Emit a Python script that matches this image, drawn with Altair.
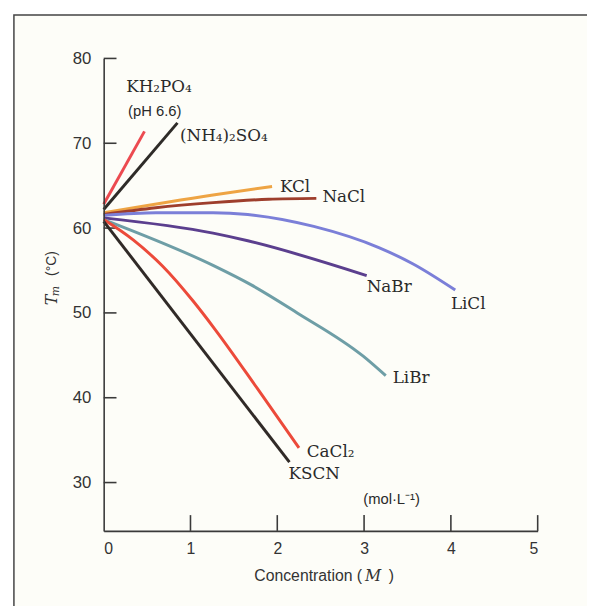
import altair as alt
import pandas as pd

# ---- data ----
series_names = ["KH₂PO₄", "(NH₄)₂SO₄", "KCl", "NaCl", "LiCl", "NaBr", "LiBr", "CaCl₂", "KSCN"]
series_colors = ["#ec4a50", "#2e2b28", "#eea444", "#9e3e2c", "#7b7fd8", "#5b3f8e", "#6e9ea6", "#ec4a3a", "#302a27"]

kh2po4_x = [0, 0.47]
kh2po4_y = [62.8, 71.4]
nh4so4_x = [0, 0.85]
nh4so4_y = [62.2, 72.4]
kcl_x = [0, 1.26, 1.94]
kcl_y = [61.8, 63.9, 64.9]
nacl_x = [0, 0.6, 1.26, 1.9, 2.45]
nacl_y = [61.6, 62.4, 63.0, 63.4, 63.5]
licl_x = [0, 0.6, 1.26, 1.66, 2.42, 3.17, 3.56, 4.05]
licl_y = [61.5, 61.8, 61.8, 61.6, 60.2, 57.7, 55.8, 52.7]
nabr_x = [0, 1.26, 1.66, 3.03]
nabr_y = [61.2, 59.4, 58.5, 54.4]
libr_x = [0, 1.26, 1.7, 2.23, 2.99, 3.25]
libr_y = [61.0, 55.6, 53.3, 50.0, 44.9, 42.6]
cacl2_x = [0, 0.34, 0.68, 1.03, 1.28, 1.77, 2.25]
cacl2_y = [61.0, 58.6, 55.5, 51.4, 48.1, 41.1, 34.1]
kscn_x = [0, 2.14]
kscn_y = [60.8, 32.4]

x_ticks = [0, 1, 2, 3, 4, 5]
y_ticks = [30, 40, 50, 60, 70, 80]

serif_labels = ["KH₂PO₄", "(NH₄)₂SO₄", "KCl", "NaCl", "NaBr", "LiCl", "LiBr", "CaCl₂", "KSCN"]
serif_label_x = [0.26, 0.88, 2.03, 2.52, 3.03, 4.0, 3.33, 2.34, 2.13]
serif_label_y = [76.6, 70.9, 64.8, 63.6, 53.0, 51.1, 42.3, 33.6, 31.0]

sans_labels = ["(pH 6.6)", "(mol·L⁻¹)"]
sans_label_x = [0.28, 2.99]
sans_label_y = [73.8, 28.1]

# ---- build tables ----
xs = [kh2po4_x, nh4so4_x, kcl_x, nacl_x, licl_x, nabr_x, libr_x, cacl2_x, kscn_x]
ys = [kh2po4_y, nh4so4_y, kcl_y, nacl_y, licl_y, nabr_y, libr_y, cacl2_y, kscn_y]
rows = []
for name, xv, yv in zip(series_names, xs, ys):
    for i, (a, b) in enumerate(zip(xv, yv)):
        rows.append({"salt": name, "conc": a, "tm": b, "i": i})
lines_df = pd.DataFrame(rows)

W, H = 440, 479
XDOM = [0, 5]
YDOM = [24.3, 80]
xsc = alt.Scale(domain=XDOM, nice=False, zero=False)
ysc = alt.Scale(domain=YDOM, nice=False, zero=False)

one = pd.DataFrame({"a": [0]})

frame = alt.Chart(one).mark_rect(fill="#fdfdf8", stroke="#444", strokeWidth=1.5).encode(
    x=alt.value(-91), x2=alt.value(520), y=alt.value(-44), y2=alt.value(580)
)

axes = alt.Chart(pd.DataFrame({"conc": [0, 5], "tm": [YDOM[0], YDOM[1]]})).mark_point(opacity=0).encode(
    x=alt.X("conc:Q", scale=xsc, axis=alt.Axis(
        values=x_ticks, ticks=False, grid=False, title=None, domainColor="#3a3a3a", domainWidth=1.6,
        labelFont="Liberation Sans", labelFontSize=16, labelColor="#333", labelPadding=10,
        format="d", zindex=2)),
    y=alt.Y("tm:Q", scale=ysc, axis=alt.Axis(
        values=y_ticks, ticks=False, grid=False, title=None, domainColor="#3a3a3a", domainWidth=1.6,
        labelFont="Liberation Sans", labelFontSize=17, labelColor="#333", labelPadding=13,
        format="d", zindex=2)),
)

ytick_rules = alt.Chart(pd.DataFrame({"tm": y_ticks})).mark_rule(color="#3a3a3a", strokeWidth=1.6).encode(
    y=alt.Y("tm:Q", scale=ysc), x=alt.value(0), x2=alt.value(13)
)
xtick_rules = alt.Chart(pd.DataFrame({"conc": x_ticks[1:]})).mark_rule(color="#3a3a3a", strokeWidth=1.6).encode(
    x=alt.X("conc:Q", scale=xsc), y=alt.value(H), y2=alt.value(H - 16)
)

lines = alt.Chart(lines_df).mark_line(strokeWidth=3, interpolate="monotone").encode(
    x=alt.X("conc:Q", scale=xsc),
    y=alt.Y("tm:Q", scale=ysc),
    color=alt.Color("salt:N", scale=alt.Scale(domain=series_names, range=series_colors), legend=None),
    order="i:Q",
)

serif_df = pd.DataFrame({"conc": serif_label_x, "tm": serif_label_y, "t": serif_labels})
serif_text = alt.Chart(serif_df).mark_text(
    font="DejaVu Serif", fontSize=17, align="left", baseline="middle", color="#2a2a2a"
).encode(x=alt.X("conc:Q", scale=xsc), y=alt.Y("tm:Q", scale=ysc), text="t:N")

sans_df = pd.DataFrame({"conc": sans_label_x, "tm": sans_label_y, "t": sans_labels})
sans_text = alt.Chart(sans_df).mark_text(
    font="Liberation Sans", fontSize=15, align="left", baseline="middle", color="#2a2a2a"
).encode(x=alt.X("conc:Q", scale=xsc), y=alt.Y("tm:Q", scale=ysc), text="t:N")

# axis titles
xt1 = alt.Chart(one).mark_text(font="Liberation Sans", fontSize=16, align="right", baseline="middle",
                               color="#333", text="Concentration (").encode(x=alt.value(262), y=alt.value(525))
xt2 = alt.Chart(one).mark_text(font="DejaVu Serif", fontSize=16, fontStyle="italic", align="left",
                               baseline="middle", color="#333", text="M").encode(x=alt.value(265), y=alt.value(525))
xt3 = alt.Chart(one).mark_text(font="Liberation Sans", fontSize=16, align="left", baseline="middle",
                               color="#333", text=")").encode(x=alt.value(289), y=alt.value(525))
yt1 = alt.Chart(one).mark_text(font="DejaVu Serif", fontSize=16, fontStyle="italic", angle=270, align="center",
                               baseline="middle", color="#333", text="T").encode(x=alt.value(-52), y=alt.value(245))
yt2 = alt.Chart(one).mark_text(font="DejaVu Serif", fontSize=11, fontStyle="italic", angle=270, align="center",
                               baseline="middle", color="#333", text="m").encode(x=alt.value(-48), y=alt.value(236))
yt3 = alt.Chart(one).mark_text(font="Liberation Sans", fontSize=14, angle=270, align="center",
                               baseline="middle", color="#333", text="(°C)").encode(x=alt.value(-52), y=alt.value(208))

chart = alt.layer(
    frame, axes, ytick_rules, xtick_rules, lines, serif_text, sans_text, xt1, xt2, xt3, yt1, yt2, yt3
).properties(
    width=W, height=H,
    autosize=alt.AutoSizeParams(type="none"),
    padding={"left": 97, "top": 47, "right": 50, "bottom": 72},
    background="white",
).configure_view(stroke=None)

chart.save("out.html", embed_options={"renderer": "svg", "actions": False})
